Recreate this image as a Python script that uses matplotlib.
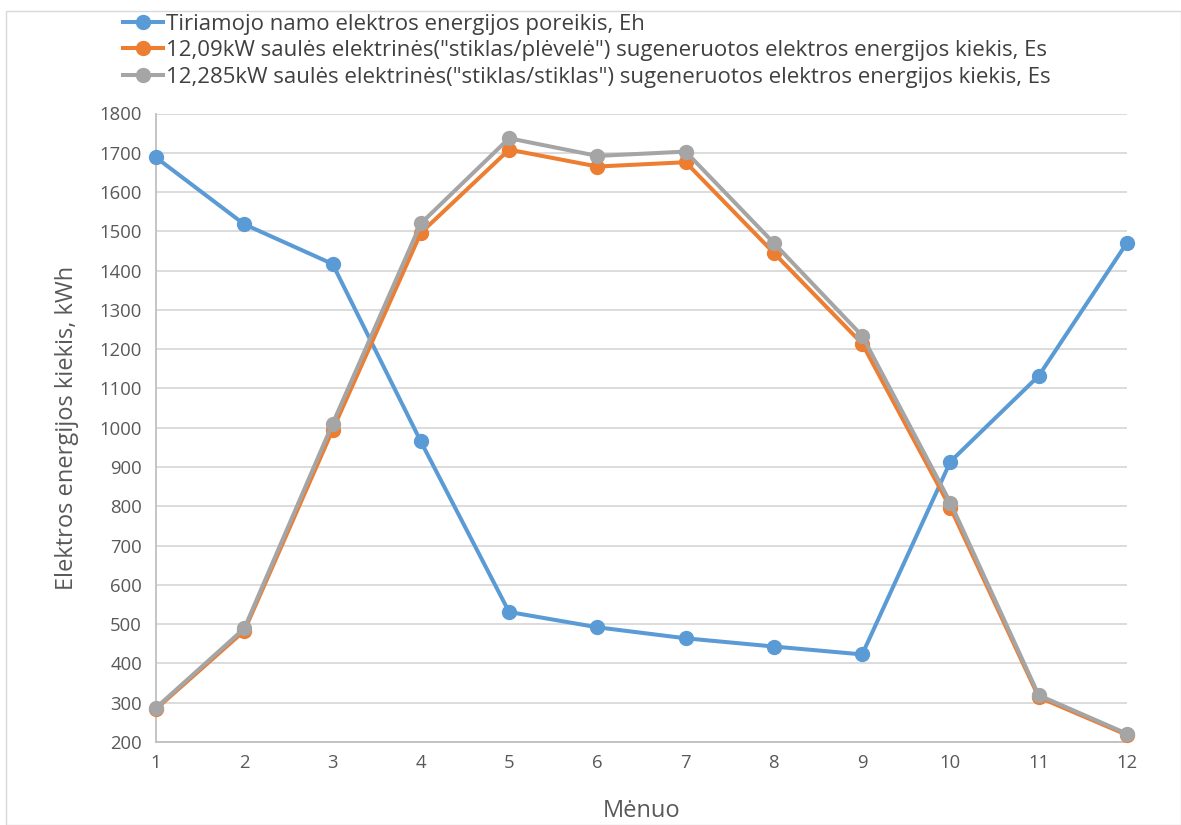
import matplotlib
matplotlib.use("Agg")
import matplotlib.pyplot as plt
from matplotlib.patches import Rectangle

plt.rcParams['font.family'] = ['Open Sans', 'DejaVu Sans']

months = list(range(1, 13))
demand_eh = [1688, 1518, 1417, 965, 531, 492, 464, 443, 423, 914, 1132, 1471]
film_es = [284, 483, 994, 1496, 1708, 1665, 1676, 1445, 1214, 796, 314, 218]
glass_es = [287, 489, 1010, 1520, 1737, 1692, 1703, 1470, 1234, 809, 319, 221]

labels = [
    'Tiriamojo namo elektros energijos poreikis, Eh',
    '12,09kW saulės elektrinės("stiklas/plėvelė") sugeneruotos elektros energijos kiekis, Es',
    '12,285kW saulės elektrinės("stiklas/stiklas") sugeneruotos elektros energijos kiekis, Es',
]
colors = ['#5B9BD5', '#ED7D31', '#A5A5A5']
text_col = '#595959'

fig = plt.figure(figsize=(11.81, 8.25), dpi=100)
# thin chart-area border
fig.patches.append(Rectangle((6 / 1181, 0), 1 - 6 / 1181, 1 - 11 / 825, transform=fig.transFigure,
                             fill=False, edgecolor='#d9d9d9', linewidth=1))
ax = fig.add_axes([156 / 1181, 83 / 825, (1127 - 156) / 1181, (742 - 113.5) / 825])

for series, col, lab in zip([demand_eh, film_es, glass_es], colors, labels):
    ax.plot(months, series, color=col, linewidth=2.9, marker='o', markersize=10,
            label=lab, clip_on=False, zorder=3)

ax.set_xlim(1, 12)
ax.set_ylim(200, 1800)
ax.set_xticks(months)
ax.set_yticks(range(200, 1801, 100))
ax.grid(axis='y', color='#d9d9d9', linewidth=1.3)
ax.set_axisbelow(True)
for s in ['top', 'right']:
    ax.spines[s].set_visible(False)
for s in ['left', 'bottom']:
    ax.spines[s].set_color('#bfbfbf')
    ax.spines[s].set_linewidth(1.3)
ax.tick_params(length=0, labelsize=13.3, colors=text_col, pad=10)
ax.tick_params(axis='x', pad=9)
ax.set_xlabel('Mėnuo', fontsize=17, color=text_col, labelpad=19)
ax.set_ylabel('Elektros energijos kiekis, kWh', fontsize=17, color=text_col, labelpad=15)

fig.legend(loc='upper left', bbox_to_anchor=(114 / 1181, 1 - 5 / 825), frameon=False,
           fontsize=16, handlelength=1.8, handletextpad=0.15, labelspacing=0.24,
           borderaxespad=0, labelcolor='#404040')

fig.savefig('out.png', dpi=100)
